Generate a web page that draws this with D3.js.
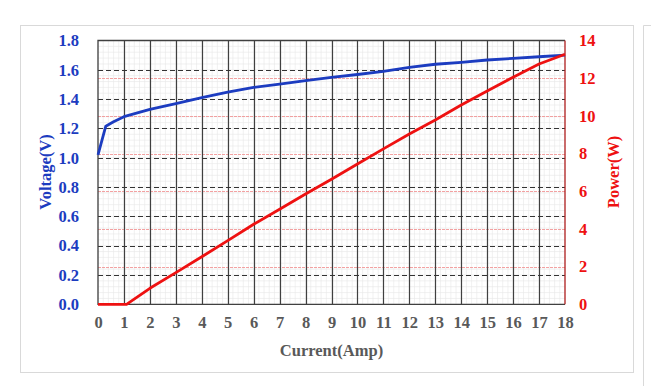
<!DOCTYPE html>
<html>
<head>
<meta charset="utf-8">
<script src="https://cdn.jsdelivr.net/npm/d3@7"></script>
<style>
  body { margin: 0; background: #fff; }
  svg { display: block; }
  text { font-family: "Liberation Serif", "Times New Roman", serif; font-weight: bold; }
</style>
</head>
<body>
<div id="chart"></div>
<script>
// current (A) vs voltage (V)
const voltCurrent = [0, 0.3, 0.6, 1, 2, 3, 4, 5, 6, 7, 8, 9, 10, 11, 12, 13, 14, 15, 16, 17, 18];
const voltValues  = [1.02, 1.215, 1.245, 1.28, 1.33, 1.37, 1.41, 1.447, 1.48, 1.503, 1.526, 1.549, 1.568, 1.59, 1.617, 1.638, 1.651, 1.667, 1.678, 1.689, 1.70];

// current (A) vs power (W)
const powerCurrent = [0, 1.1, 2, 3, 4, 5, 6, 7, 8, 9, 10, 11, 12, 13, 14, 15, 16, 17, 18];
const powerValues  = [0, 0, 0.85, 1.68, 2.52, 3.38, 4.25, 5.04, 5.85, 6.64, 7.45, 8.25, 9.04, 9.78, 10.58, 11.32, 12.05, 12.75, 13.27];

const xTicks = d3.range(0, 19, 1);
const voltTicks = [0, 0.2, 0.4, 0.6, 0.8, 1.0, 1.2, 1.4, 1.6, 1.8];
const powerTicks = [0, 2, 4, 6, 8, 10, 12, 14];

const width = 651, height = 386;
const plot = { left: 98, right: 565, top: 40.5, bottom: 304.3 };

const BLUE = "#1c3cc0", RED = "#ee1111", GRAY = "#595959";
const FS = "16.5px";

const svg = d3.select("#chart").append("svg")
    .attr("width", width)
    .attr("height", height);

// chart frame + edge of the next panel
svg.append("rect")
    .attr("x", 20.5).attr("y", 25.5)
    .attr("width", 613).attr("height", 347)
    .attr("fill", "#fff").attr("stroke", "#d9d9d9");
svg.append("path")
    .attr("d", "M643.5,386V25.5H651")
    .attr("fill", "none").attr("stroke", "#d9d9d9");

const x = d3.scaleLinear().domain([0, 18]).range([plot.left, plot.right]);
const yV = d3.scaleLinear().domain([0, 1.8]).range([plot.bottom, plot.top]);
const yP = d3.scaleLinear().domain([0, 14]).range([plot.bottom, plot.top]);

const grid = svg.append("g");

// minor grid
grid.selectAll("line.mx")
    .data(d3.range(0, 18.001, 0.2))
    .enter().append("line")
    .attr("x1", d => x(d)).attr("x2", d => x(d))
    .attr("y1", plot.top).attr("y2", plot.bottom)
    .attr("stroke", "#e8e8e8").attr("stroke-width", 0.6);
grid.selectAll("line.my")
    .data(d3.range(0, 1.8001, 0.04))
    .enter().append("line")
    .attr("x1", plot.left).attr("x2", plot.right)
    .attr("y1", d => yV(d)).attr("y2", d => yV(d))
    .attr("stroke", "#e8e8e8").attr("stroke-width", 0.6);

// power gridlines (thin red)
grid.selectAll("line.pg")
    .data(powerTicks.slice(1, -1))
    .enter().append("line")
    .attr("x1", plot.left).attr("x2", plot.right)
    .attr("y1", d => Math.round(yP(d)) + 0.5).attr("y2", d => Math.round(yP(d)) + 0.5)
    .attr("stroke", "#f08a8a").attr("stroke-width", 0.8)
    .attr("stroke-dasharray", "3,1");

// vertical major gridlines
grid.selectAll("line.vx")
    .data(xTicks.slice(1, -1))
    .enter().append("line")
    .attr("x1", d => Math.round(x(d)) + 0.5).attr("x2", d => Math.round(x(d)) + 0.5)
    .attr("y1", plot.top).attr("y2", plot.bottom)
    .attr("stroke", "#404040").attr("stroke-width", 1.2);

// voltage gridlines (dashed black)
grid.selectAll("line.vg")
    .data(voltTicks.slice(1, -1))
    .enter().append("line")
    .attr("x1", plot.left).attr("x2", plot.right)
    .attr("y1", d => Math.round(yV(d)) + 0.5).attr("y2", d => Math.round(yV(d)) + 0.5)
    .attr("stroke", "#333").attr("stroke-width", 1.2)
    .attr("stroke-dasharray", "5,3");

// plot border
svg.append("path")
    .attr("d", `M${plot.right},${plot.top}H${plot.left}V${plot.bottom}H${plot.right}`)
    .attr("fill", "none").attr("stroke", "#404040").attr("stroke-width", 1.3);
svg.append("line")
    .attr("x1", plot.right).attr("x2", plot.right)
    .attr("y1", plot.top).attr("y2", plot.bottom)
    .attr("stroke", "#b02020").attr("stroke-width", 1.3);

// axes
const xAxis = svg.append("g")
    .attr("transform", `translate(0,${plot.bottom})`)
    .call(d3.axisBottom(x).tickValues(xTicks).tickSize(0).tickPadding(12));
xAxis.select(".domain").remove();
xAxis.selectAll("text").attr("fill", GRAY).style("font-size", FS);

const yAxisL = svg.append("g")
    .attr("transform", `translate(${plot.left},0)`)
    .call(d3.axisLeft(yV).tickValues(voltTicks).tickFormat(d3.format(".1f")).tickSize(0).tickPadding(19));
yAxisL.select(".domain").remove();
yAxisL.selectAll("text").attr("fill", BLUE).style("font-size", FS);

const yAxisR = svg.append("g")
    .attr("transform", `translate(${plot.right},0)`)
    .call(d3.axisRight(yP).tickValues(powerTicks).tickFormat(d3.format("d")).tickSize(0).tickPadding(14));
yAxisR.select(".domain").remove();
yAxisR.selectAll("text").attr("fill", RED).style("font-size", FS);

// series
const voltLine = d3.line()
    .x((d, i) => x(voltCurrent[i]))
    .y(d => yV(d));
svg.append("path")
    .datum(voltValues)
    .attr("d", voltLine)
    .attr("fill", "none")
    .attr("stroke", BLUE)
    .attr("stroke-width", 2.8)
    .attr("stroke-linejoin", "round");

const powerLine = d3.line()
    .x((d, i) => x(powerCurrent[i]))
    .y(d => yP(d));
svg.append("path")
    .datum(powerValues)
    .attr("d", powerLine)
    .attr("fill", "none")
    .attr("stroke", RED)
    .attr("stroke-width", 2.8)
    .attr("stroke-linejoin", "round");

// axis titles
svg.append("text")
    .attr("transform", "translate(51,172) rotate(-90)")
    .attr("text-anchor", "middle")
    .attr("fill", BLUE)
    .style("font-size", FS)
    .text("Voltage(V)");

svg.append("text")
    .attr("transform", "translate(619,172) rotate(-90)")
    .attr("text-anchor", "middle")
    .attr("fill", RED)
    .style("font-size", FS)
    .text("Power(W)");

svg.append("text")
    .attr("x", (plot.left + plot.right) / 2)
    .attr("y", 356)
    .attr("text-anchor", "middle")
    .attr("fill", GRAY)
    .style("font-size", FS)
    .text("Current(Amp)");
</script>
</body>
</html>
